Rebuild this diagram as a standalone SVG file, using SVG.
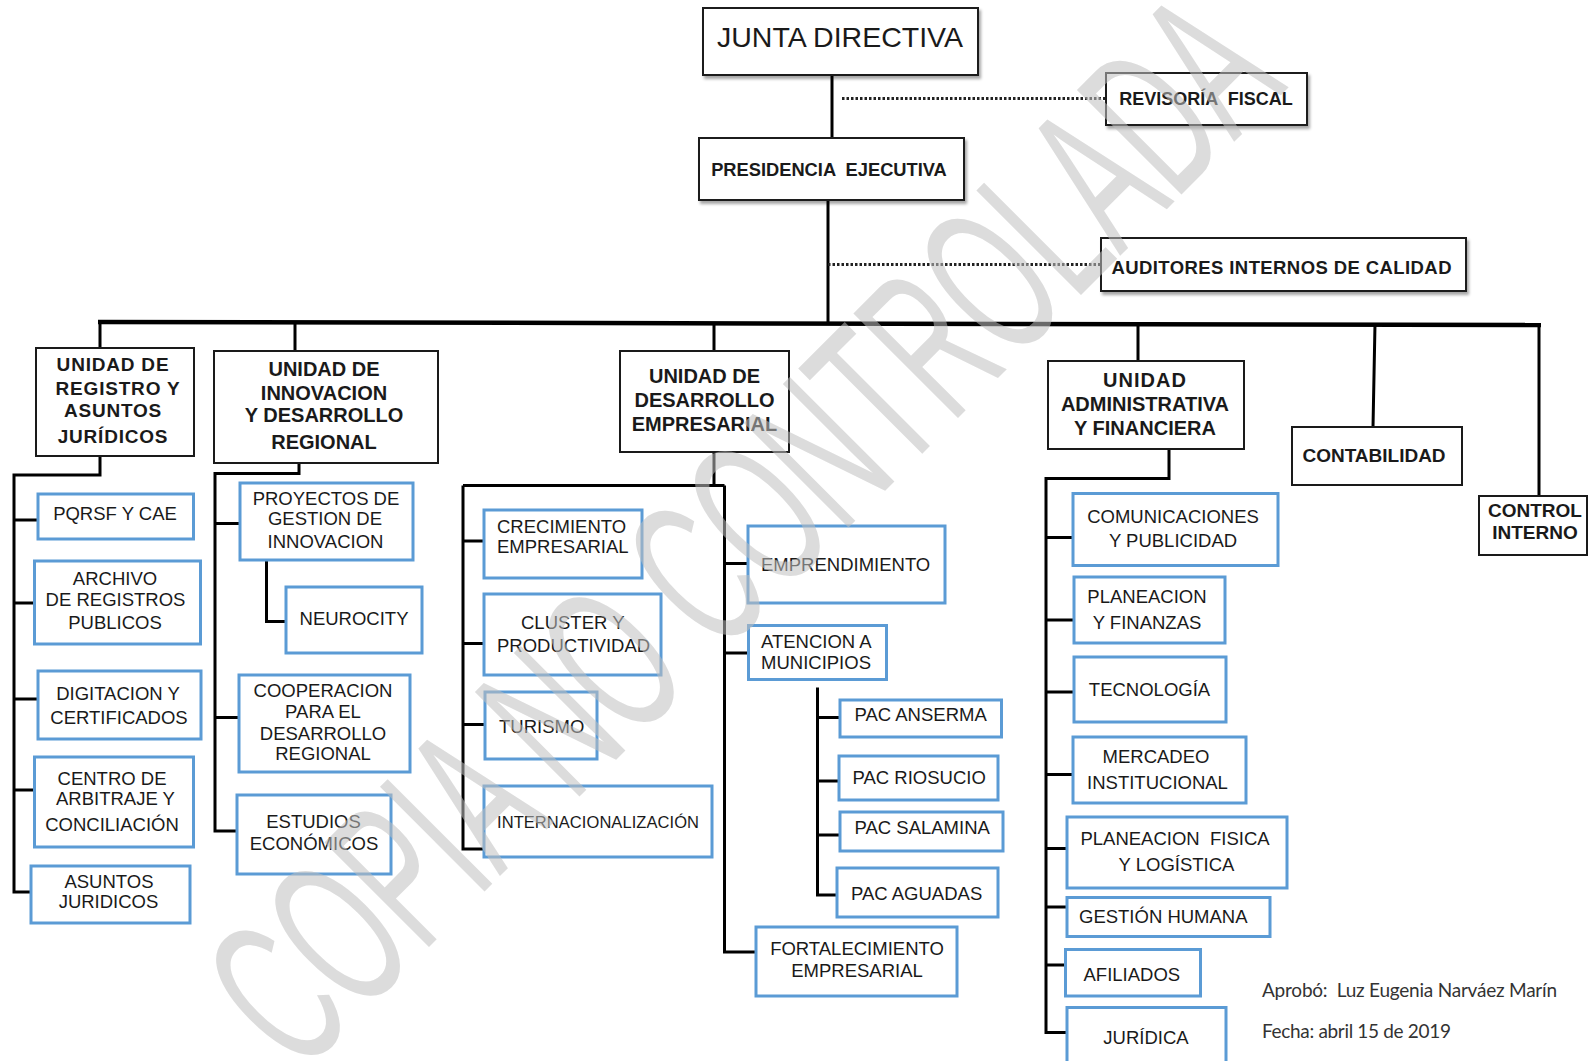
<svg xmlns="http://www.w3.org/2000/svg" width="1589" height="1061" viewBox="0 0 1589 1061">
<defs>
<filter id="sh" x="-10%" y="-20%" width="130%" height="160%"><feDropShadow dx="2" dy="3" stdDeviation="1.8" flood-color="#000" flood-opacity="0.35"/></filter>
<style>
.bk{fill:#fff;stroke:#1a1a1a;stroke-width:2}
.bb{fill:#fff;stroke:#5b9bd5;stroke-width:3}
.ln{fill:none;stroke:#000;stroke-width:3}
.dt{fill:none;stroke:#222;stroke-width:3;stroke-dasharray:2.5 2}
text{font-family:"Liberation Sans",Arial,sans-serif;fill:#1a1a1a}
.h{font-weight:bold;font-size:20px;text-anchor:middle}
.h19{font-weight:bold;font-size:19px;text-anchor:middle;letter-spacing:0.8px}
.t{font-size:18.5px;text-anchor:middle}
.tl{font-size:18.5px}
.ft{font-family:Lato,"Open Sans",sans-serif;font-size:19px;fill:#333}
</style>
</defs>
<g id="connectors">
<path class="ln" d="M832,75 V138"/>
<path class="dt" d="M842,98.5 H1106"/>
<path class="ln" d="M828,200 V322"/>
<path class="dt" d="M828,264.5 H1101"/>
<path class="ln" style="stroke-width:4.5" d="M98,322 L1541,325"/>
<path class="ln" d="M100,322 V348 M295,322 V351 M714,322 V351 M1138,323.5 V361 M1375,324 L1373,427 M1539,324.5 V496"/>
<path class="ln" d="M100,456 V475 H14 V892 H31 M14,520 H38 M14,603 H34.5 M14,699 H38 M14,790 H34.5"/>
<path class="ln" d="M299,463 V473.5 H215 V831 H237 M215,523.5 H240 M215,717.5 H239 M266.5,560 V621.5 H286"/>
<path class="ln" d="M714,453 V485.5 M463,485.5 H724.5 M463,485.5 V849 H484 M463,541 H484 M463,643.5 H484 M463,724.5 H485"/>
<path class="ln" d="M724.5,485.5 V952 H756 M724.5,563.5 H748 M724.5,653 H748.5"/>
<path class="ln" d="M817.5,687.5 V895 H837 M817.5,717.5 H840 M817.5,781 H839 M817.5,835 H840"/>
<path class="ln" d="M1169,449 V478.5 H1046 V1032.5 H1067 M1046,537.5 H1073 M1046,620 H1074 M1046,692 H1074 M1046,774.5 H1073 M1046,848.5 H1067 M1046,907 H1067 M1046,965 H1065.5"/>
</g>
<g id="junta"><rect class="bk" filter="url(#sh)" x="703" y="8" width="275" height="67"/><text x="840" y="47" style="font-size:28.5px;text-anchor:middle">JUNTA DIRECTIVA</text></g>
<g id="revisoria"><rect class="bk" filter="url(#sh)" x="1106" y="73" width="201" height="52"/><text class="h" x="1206" y="105" style="font-size:18px" xml:space="preserve">REVISORÍA  FISCAL</text></g>
<g id="presidencia"><rect class="bk" filter="url(#sh)" x="699" y="138" width="265" height="62"/><text class="h" x="829" y="176" style="font-size:18.3px" xml:space="preserve">PRESIDENCIA  EJECUTIVA</text></g>
<g id="auditores"><rect class="bk" filter="url(#sh)" x="1101" y="238" width="365" height="53"/><text class="h" x="1281.5" y="273.5" style="font-size:18.5px" textLength="340">AUDITORES INTERNOS DE CALIDAD</text></g>
<g id="u-registro"><rect class="bk" x="36" y="348" width="158" height="108"/>
<text class="h19" x="113" y="371">UNIDAD DE</text><text class="h19" x="118" y="394.5">REGISTRO Y</text><text class="h19" x="113" y="417">ASUNTOS</text><text class="h19" x="113" y="443">JURÍDICOS</text></g>
<g id="u-innovacion"><rect class="bk" x="214" y="351" width="224" height="112"/>
<text class="h" x="324" y="376">UNIDAD DE</text><text class="h" x="324" y="400">INNOVACION</text><text class="h" x="324" y="422">Y DESARROLLO</text><text class="h" x="324" y="449">REGIONAL</text></g>
<g id="u-desarrollo"><rect class="bk" x="620" y="351" width="169" height="101"/>
<text class="h" x="704.5" y="383">UNIDAD DE</text><text class="h" x="704.5" y="407">DESARROLLO</text><text class="h" x="704.5" y="431">EMPRESARIAL</text></g>
<g id="u-administrativa"><rect class="bk" x="1048" y="361" width="196" height="88"/>
<text class="h" x="1145" y="386.5" style="letter-spacing:1px">UNIDAD</text><text class="h" x="1145" y="411">ADMINISTRATIVA</text><text class="h" x="1145" y="434.5">Y FINANCIERA</text></g>
<g id="contabilidad"><rect class="bk" x="1292" y="427" width="170" height="58"/><text class="h" x="1374" y="462" style="font-size:19px">CONTABILIDAD</text></g>
<g id="control"><rect class="bk" x="1479" y="496" width="108" height="59"/><text class="h" x="1535" y="517" style="font-size:19px">CONTROL</text><text class="h" x="1535" y="538.5" style="font-size:19px">INTERNO</text></g>
<g id="pqrsf"><rect class="bb" x="38" y="494" width="155.5" height="45"/><text class="t" x="115" y="520">PQRSF Y CAE</text></g>
<g id="archivo"><rect class="bb" x="34.5" y="561" width="166" height="83"/><text class="t" x="115" y="585">ARCHIVO</text><text class="t" x="115.5" y="606">DE REGISTROS</text><text class="t" x="115" y="628.5">PUBLICOS</text></g>
<g id="digitacion"><rect class="bb" x="38" y="671" width="163" height="68"/><text class="t" x="118" y="699.5">DIGITACION Y</text><text class="t" x="119" y="723.5">CERTIFICADOS</text></g>
<g id="centro"><rect class="bb" x="34.5" y="757" width="159" height="90"/><text class="t" x="112" y="785">CENTRO DE</text><text class="t" x="115.5" y="805">ARBITRAJE Y</text><text class="t" x="112" y="831">CONCILIACIÓN</text></g>
<g id="asuntos"><rect class="bb" x="31" y="866" width="159" height="57"/><text class="t" x="109" y="887.5">ASUNTOS</text><text class="t" x="108.5" y="907.5">JURIDICOS</text></g>
<g id="proyectos"><rect class="bb" x="240" y="483" width="173" height="77"/><text class="t" x="326" y="505">PROYECTOS DE</text><text class="t" x="325" y="525">GESTION DE</text><text class="t" x="325.5" y="548">INNOVACION</text></g>
<g id="neurocity"><rect class="bb" x="286" y="587" width="136" height="66"/><text class="t" x="354" y="625">NEUROCITY</text></g>
<g id="cooperacion"><rect class="bb" x="239" y="675" width="171" height="97"/><text class="t" x="323" y="697">COOPERACION</text><text class="t" x="323" y="718">PARA EL</text><text class="t" x="323" y="739.5">DESARROLLO</text><text class="t" x="323" y="760">REGIONAL</text></g>
<g id="estudios"><rect class="bb" x="237" y="795" width="154" height="79"/><text class="t" x="313.5" y="828">ESTUDIOS</text><text class="t" x="314" y="849.5">ECONÓMICOS</text></g>
<g id="crecimiento"><rect class="bb" x="484" y="510" width="158" height="68"/><text class="tl" x="497" y="532.5">CRECIMIENTO</text><text class="tl" x="497" y="553">EMPRESARIAL</text></g>
<g id="cluster"><rect class="bb" x="484" y="594" width="177" height="81"/><text class="tl" x="521" y="628.5">CLUSTER Y</text><text class="tl" x="497" y="652">PRODUCTIVIDAD</text></g>
<g id="turismo"><rect class="bb" x="485" y="692" width="112" height="67"/><text class="tl" x="499" y="733">TURISMO</text></g>
<g id="internacionalizacion"><rect class="bb" x="484" y="786" width="228" height="71"/><text class="tl" x="497" y="827.5" style="font-size:16.5px" textLength="202">INTERNACIONALIZACIÓN</text></g>
<g id="emprendimiento"><rect class="bb" x="748" y="526" width="197" height="77"/><text class="tl" x="761" y="570.5">EMPRENDIMIENTO</text></g>
<g id="atencion"><rect class="bb" x="748.5" y="625.5" width="138" height="54"/><text class="tl" x="761" y="648">ATENCION A</text><text class="tl" x="761" y="668.5">MUNICIPIOS</text></g>
<g id="pac-anserma"><rect class="bb" x="840" y="700" width="161.5" height="37"/><text class="tl" x="854.5" y="721">PAC ANSERMA</text></g>
<g id="pac-riosucio"><rect class="bb" x="839" y="756" width="159" height="44"/><text class="tl" x="852.5" y="784">PAC RIOSUCIO</text></g>
<g id="pac-salamina"><rect class="bb" x="840" y="812" width="163" height="39"/><text class="tl" x="854.5" y="834">PAC SALAMINA</text></g>
<g id="pac-aguadas"><rect class="bb" x="837" y="868" width="161" height="49"/><text class="tl" x="851" y="899.5">PAC AGUADAS</text></g>
<g id="fortalecimiento"><rect class="bb" x="756" y="927" width="201" height="69"/><text class="t" x="857" y="955">FORTALECIMIENTO</text><text class="t" x="857" y="977">EMPRESARIAL</text></g>
<g id="comunicaciones"><rect class="bb" x="1073" y="493.5" width="205" height="72"/><text class="t" x="1173" y="522.5">COMUNICACIONES</text><text class="t" x="1173" y="547">Y PUBLICIDAD</text></g>
<g id="planeacion-finanzas"><rect class="bb" x="1074" y="577" width="151" height="66"/><text class="t" x="1147" y="603">PLANEACION</text><text class="t" x="1147" y="628.5">Y FINANZAS</text></g>
<g id="tecnologia"><rect class="bb" x="1074" y="657" width="152" height="65"/><text class="t" x="1149.5" y="696">TECNOLOGÍA</text></g>
<g id="mercadeo"><rect class="bb" x="1073" y="737" width="173" height="66"/><text class="t" x="1156" y="762.5">MERCADEO</text><text class="t" x="1157.5" y="788.5">INSTITUCIONAL</text></g>
<g id="planeacion-fisica"><rect class="bb" x="1067" y="817" width="220" height="71"/><text class="t" x="1175" y="845" xml:space="preserve">PLANEACION  FISICA</text><text class="t" x="1176.5" y="871">Y LOGÍSTICA</text></g>
<g id="gestion-humana"><rect class="bb" x="1067" y="897.5" width="203" height="39"/><text class="tl" x="1079" y="922.5">GESTIÓN HUMANA</text></g>
<g id="afiliados"><rect class="bb" x="1065.5" y="949.5" width="135" height="46.5"/><text class="tl" x="1083.5" y="981">AFILIADOS</text></g>
<g id="juridica"><rect class="bb" x="1067" y="1007.5" width="159" height="60"/><text class="t" x="1146" y="1043.5">JURÍDICA</text></g>
<g id="footer">
<text class="ft" x="1262" y="997" textLength="295" xml:space="preserve">Aprobó:  Luz Eugenia Narváez Marín</text>
<text class="ft" x="1262" y="1038" textLength="189">Fecha: abril 15 de 2019</text>
</g>
<g id="watermark">
<text transform="translate(299,1077) rotate(-45) scale(0.54,1)" style="font-family:'Liberation Sans',Arial,sans-serif;font-size:215px;fill:#c0c0c0;opacity:0.55">COPIA NO CONTROLADA</text>
</g>
</svg>
